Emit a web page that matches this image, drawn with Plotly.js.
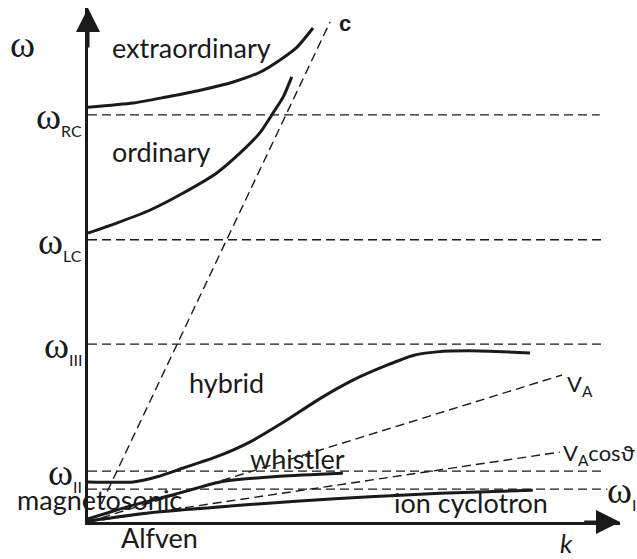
<!DOCTYPE html>
<html>
<head>
<meta charset="utf-8">
<script src="https://cdn.plot.ly/plotly-3.0.1.min.js"></script>
<style>html,body{margin:0;padding:0;background:#fff;}#chart{width:637px;height:559px;}</style>
</head>
<body>
<div id="chart"></div>
<script>
// ---- data (k, omega in arbitrary units 0..10) ----
const extraK = [0, 0.85, 1.48, 2.11, 2.73, 3.23, 3.61, 3.93, 4.23];
const extraW = [8.07, 8.15, 8.27, 8.40, 8.56, 8.75, 8.99, 9.24, 9.61];
const ordK = [0, 0.55, 1.17, 1.79, 2.42, 2.86, 3.23, 3.48, 3.67, 3.83];
const ordW = [5.62, 5.82, 6.07, 6.40, 6.79, 7.18, 7.57, 7.96, 8.27, 8.66];
const hybK = [0, 0.85, 1.30, 1.79, 2.42, 3.05, 3.67, 4.36, 4.98, 5.62, 6.11, 6.56, 7.18, 8.31];
const hybW = [0.78, 0.78, 0.88, 1.05, 1.27, 1.56, 1.94, 2.40, 2.76, 3.05, 3.24, 3.31, 3.33, 3.29];
const whiK = [0, 0.79, 1.64, 2.48, 3.61, 4.79];
const whiW = [0.06, 0.31, 0.54, 0.78, 0.89, 0.95];
const ionK = [0, 1.17, 2.67, 3.98, 5.30, 6.62, 8.36];
const ionW = [0.02, 0.18, 0.31, 0.41, 0.49, 0.56, 0.62];

const levelNames = ['RC', 'LC', 'III', 'II', 'I'];
const levelW = [7.92, 5.49, 3.46, 0.99, 0.64];
const levelEnd = [9.62, 9.68, 9.68, 9.68, 9.76];

const lightK = [0.25, 4.55];
const lightW = [0.35, 9.73];
const vaK = [0, 8.91];
const vaW = [0, 2.86];
const vacK = [0, 8.87];
const vacW = [0, 1.36];

const branchLabels = ['extraordinary', 'ordinary', 'hybrid', 'whistler', 'magnetosonic', 'Alfven', 'ion cyclotron'];
const branchLabelK = [1.94, 1.39, 2.61, 3.93, 0.21, 1.35, 7.20];
const branchLabelW = [9.24, 7.20, 2.72, 1.23, 0.43, -0.31, 0.37];

// ---- styles ----
const K_MAX = 10, W_MAX = 10;
const INK = '#1a1a1a';
const solid = {color: INK, width: 3, shape: 'spline', smoothing: 0.6};
const dashed = {color: INK, width: 1.4, dash: '9px,5px'};
const SANS = 'Lato, "Open Sans", sans-serif';
const SERIF = '"Liberation Serif", "DejaVu Serif", serif';

const traces = [];
levelW.forEach((w, i) => {
  traces.push({x: [0, levelEnd[i]], y: [w, w], mode: 'lines', line: dashed});
});
traces.push({x: lightK, y: lightW, mode: 'lines', line: dashed});
traces.push({x: vaK, y: vaW, mode: 'lines', line: dashed});
traces.push({x: vacK, y: vacW, mode: 'lines', line: dashed});
[[extraK, extraW], [ordK, ordW], [hybK, hybW], [whiK, whiW], [ionK, ionW]].forEach(([k, w]) => {
  traces.push({x: k, y: w, mode: 'lines', line: solid});
});

// annotations placed in paper coordinates derived from data units (range 0..10 on both axes)
const px = k => k / K_MAX;
const py = w => w / W_MAX;
const ann = [];
const label = (k, w, text, font, xanchor) => ann.push({x: px(k), y: py(w), xref: 'paper', yref: 'paper',
  text: text, showarrow: false, font: font, xanchor: xanchor || 'center', yanchor: 'middle'});

branchLabels.forEach((t, i) => label(branchLabelK[i], branchLabelW[i], t, {family: SANS, size: 27, color: INK}));
const omegaSub = n => 'ω<sub><span style="font-family:Lato;font-size:16px">' + n + '</span></sub>';
const omegaFont = {family: SERIF, size: 38, color: INK};
levelNames.slice(0, 4).forEach((n, i) => label(-0.08, levelW[i] - 0.05, omegaSub(n), omegaFont, 'right'));
label(levelEnd[4] - 0.04, levelW[4] - 0.05, omegaSub(levelNames[4]), omegaFont, 'left');
label(-1.24, 9.3, 'ω', omegaFont);
label(9.0, -0.4, '<i>k</i>', {family: SANS, size: 26, color: INK});
label(4.83, 9.7, '<b>c</b>', {family: '"Liberation Sans", Arial, sans-serif', size: 22, color: INK});
label(vaK[1] + 0.06, vaW[1] - 0.2, 'V<sub>A</sub>', {family: SANS, size: 22, color: INK}, 'left');
label(vacK[1] + 0.02, vacW[1] - 0.04, 'V<sub>A</sub>cosϑ', {family: SANS, size: 22, color: INK}, 'left');

// axis arrows
ann.push({x: 0, y: W_MAX, ax: 0, ay: 9.2, xref: 'x', yref: 'y', axref: 'x', ayref: 'y', text: '', showarrow: true,
  arrowhead: 2, arrowsize: 1.6, arrowwidth: 3, arrowcolor: INK});
ann.push({x: K_MAX, y: 0, ax: 9.3, ay: 0, xref: 'x', yref: 'y', axref: 'x', ayref: 'y', text: '', showarrow: true,
  arrowhead: 2, arrowsize: 1.6, arrowwidth: 3, arrowcolor: INK});

const layout = {
  width: 637, height: 559,
  margin: {l: 88, r: 17, t: 8, b: 37},
  paper_bgcolor: '#fff', plot_bgcolor: '#fff',
  showlegend: false,
  xaxis: {range: [0, K_MAX], showgrid: false, zeroline: false, showticklabels: false, ticks: '',
    showline: true, linewidth: 3, linecolor: INK, fixedrange: true},
  yaxis: {range: [0, W_MAX], showgrid: false, zeroline: false, showticklabels: false, ticks: '',
    showline: true, linewidth: 3, linecolor: INK, fixedrange: true},
  annotations: ann
};
traces.forEach(t => { t.cliponaxis = false; t.hoverinfo = 'skip'; });
Plotly.newPlot('chart', traces, layout, {staticPlot: true, displayModeBar: false});
</script>
</body>
</html>
